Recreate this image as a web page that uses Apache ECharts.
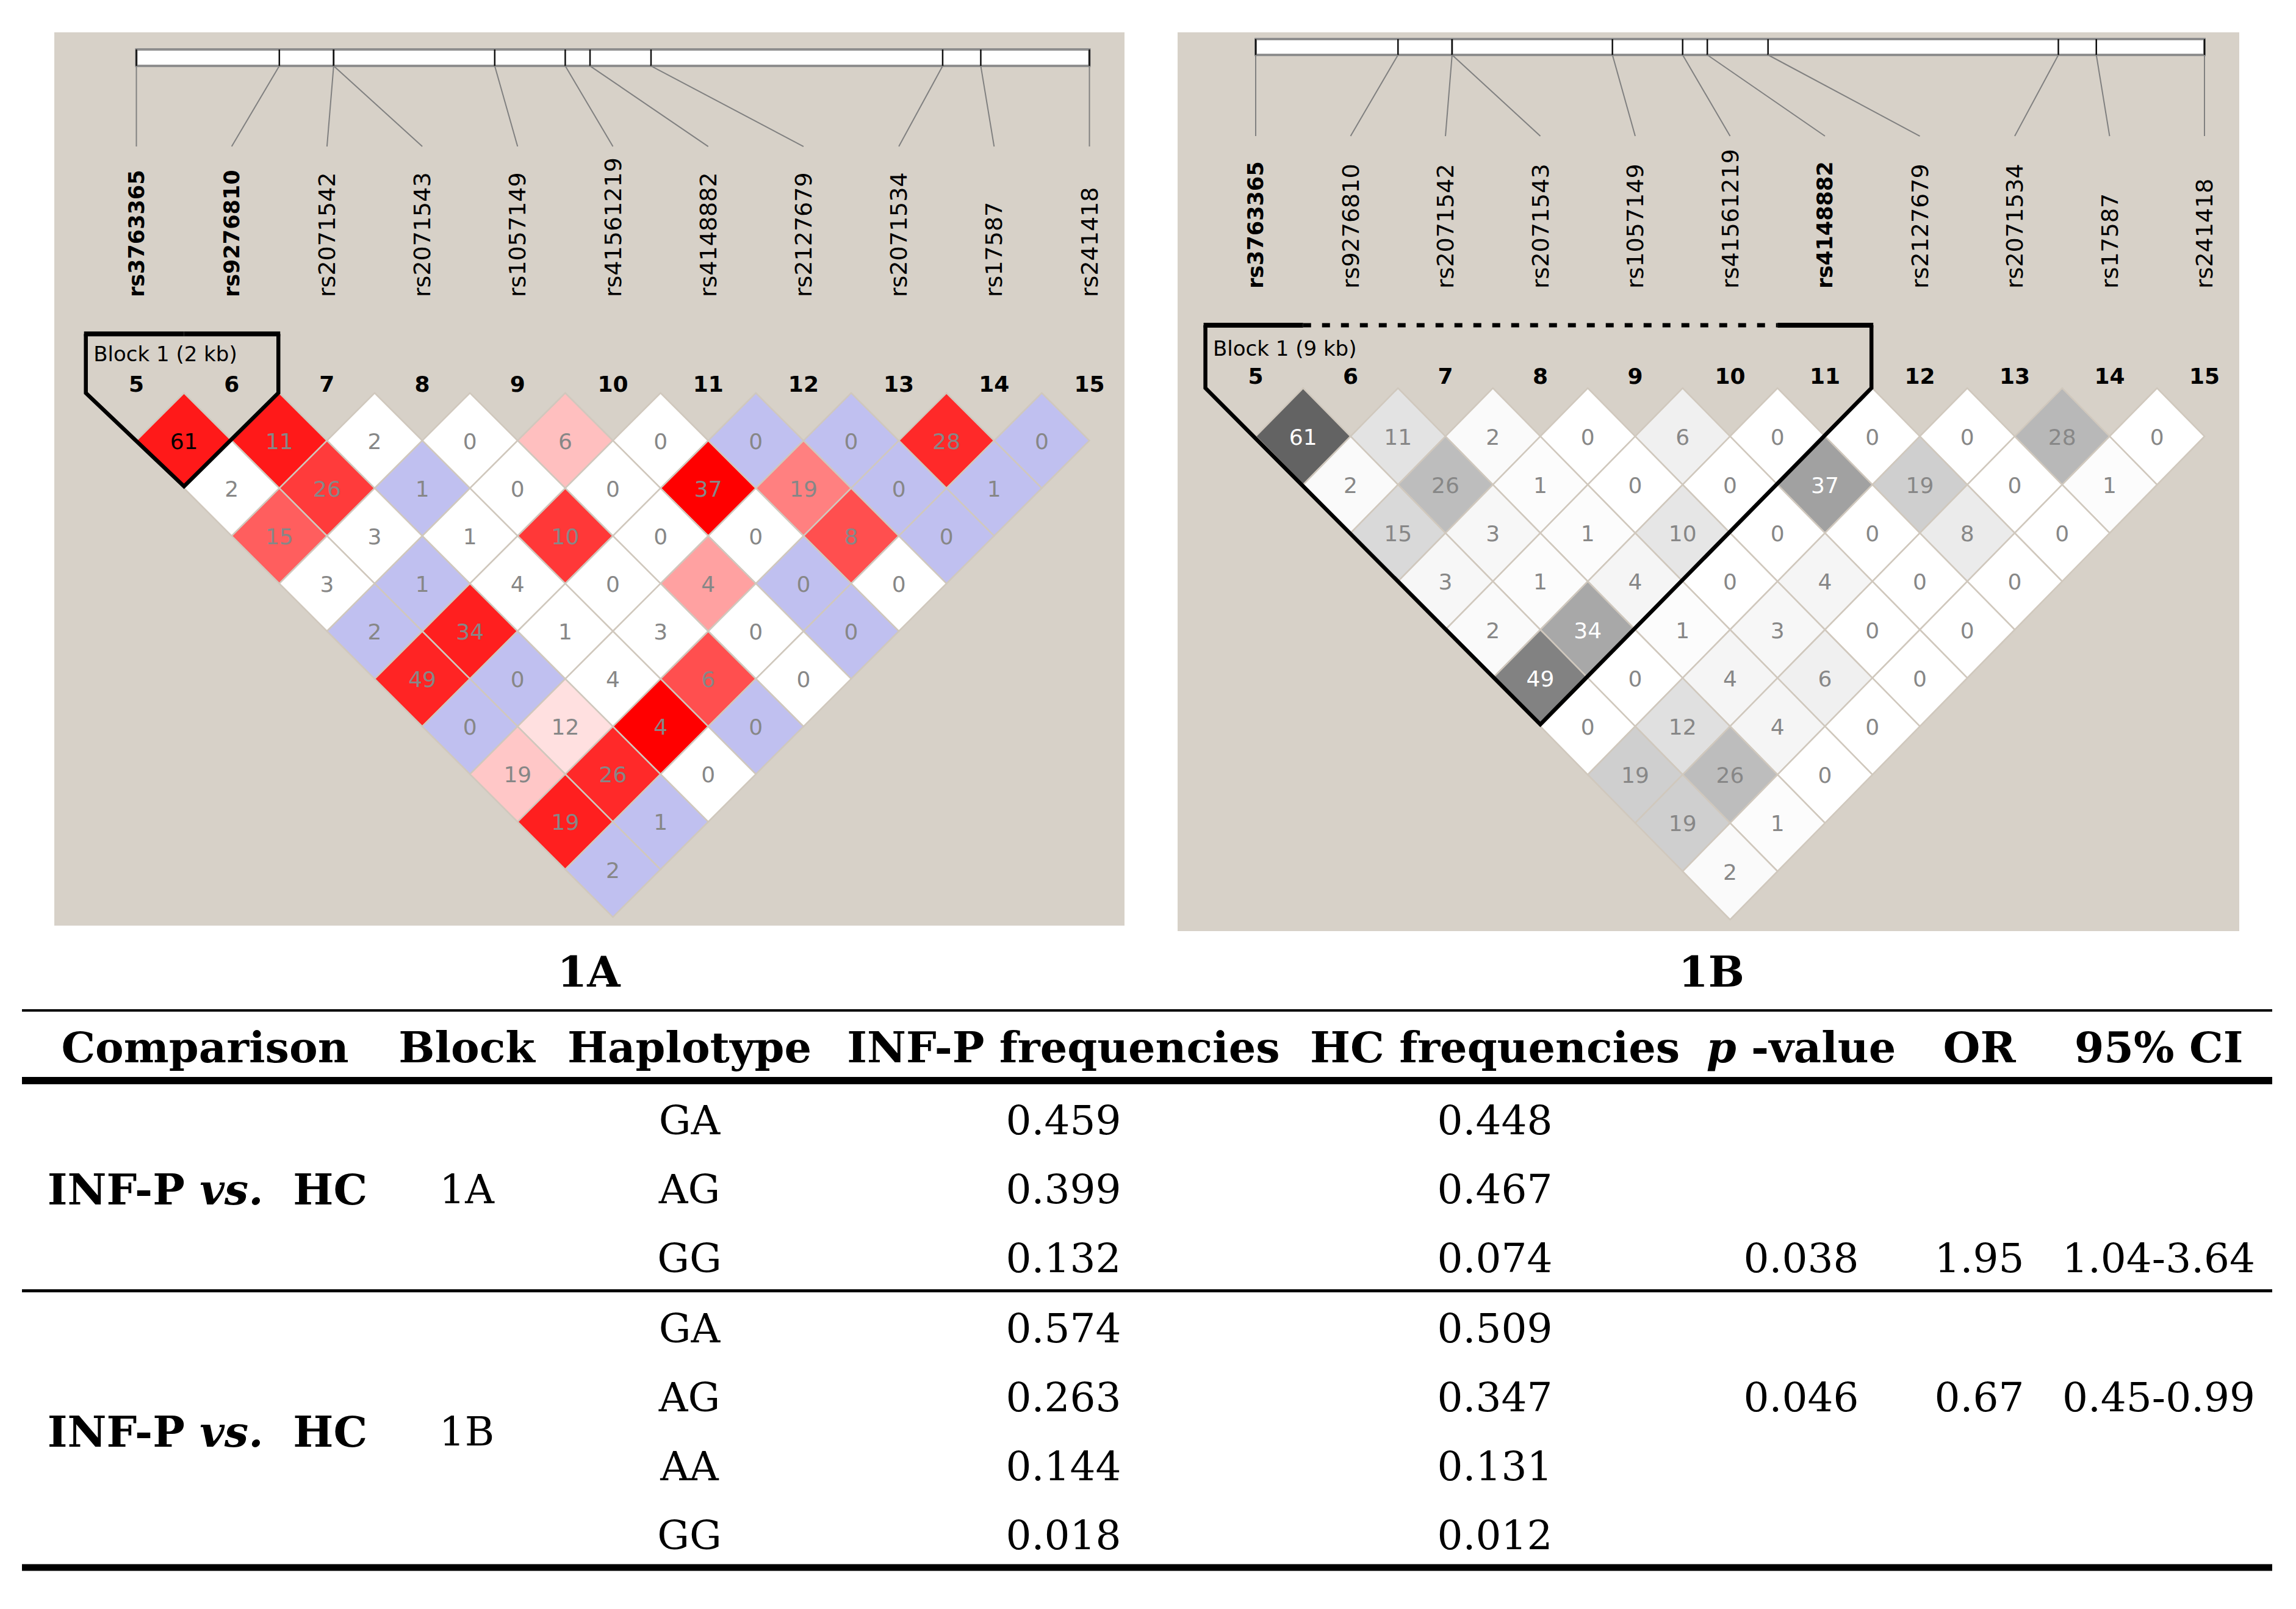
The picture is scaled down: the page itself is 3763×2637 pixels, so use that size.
<!DOCTYPE html>
<html><head><meta charset="utf-8">
<script src="https://cdn.jsdelivr.net/npm/echarts@6/dist/echarts.min.js"></script>
<style>html,body{margin:0;padding:0;background:#fff;}#c{width:3763px;height:2637px;}</style>
</head><body><div id="c"></div>
<script>
// ---------------- DATA ----------------
const markerNumbers = [5, 6, 7, 8, 9, 10, 11, 12, 13, 14, 15];
const snpNames = ['rs3763365','rs9276810','rs2071542','rs2071543','rs1057149','rs41561219','rs4148882','rs2127679','rs2071534','rs17587','rs241418'];
// relative map position of each SNP along the region bar (0..1000)
const snpMapPos = [0, 150, 207, 207, 376, 450, 476, 540, 846, 886, 1000];
// r² x100, row k = pairs (marker m, marker m+k)
const r2Rows = [
  [61, 11, 2, 0, 6, 0, 0, 0, 28, 0],
  [2, 26, 1, 0, 0, 37, 19, 0, 1],
  [15, 3, 1, 10, 0, 0, 8, 0],
  [3, 1, 4, 0, 4, 0, 0],
  [2, 34, 1, 3, 0, 0],
  [49, 0, 4, 6, 0],
  [0, 12, 4, 0],
  [19, 26, 0],
  [19, 1],
  [2]
];
// estimated D' (panel 1A colour scheme)
const dPrimeRows = [
  [0.90, 0.90, 0.50, 0.50, 0.25, 0.50, 1, 1, 0.84, 1],
  [0.50, 0.77, 1, 0.50, 0.50, 1, 0.50, 1, 1],
  [0.63, 0.50, 0.50, 0.78, 0.50, 0.50, 0.69, 1],
  [0.50, 1, 0.50, 0.50, 0.37, 1, 0.50],
  [1, 0.88, 0.50, 0.50, 0.50, 1],
  [0.86, 1, 0.50, 0.69, 0.50],
  [1, 0.12, 1, 1],
  [0.22, 0.84, 0.50],
  [0.88, 1],
  [1]
];
// LOD >= 2 flag (panel 1A colour scheme)
const lodSigRows = [
  [1, 1, 0, 0, 1, 0, 0, 0, 1, 0],
  [0, 1, 0, 0, 0, 1, 1, 0, 0],
  [1, 0, 0, 1, 0, 0, 1, 0],
  [0, 0, 0, 0, 1, 0, 0],
  [0, 1, 0, 0, 0, 0],
  [1, 0, 0, 1, 0],
  [0, 1, 1, 0],
  [1, 1, 0],
  [1, 0],
  [0]
];
const blockA = [5, 6];
const blockB = [5, 11];
const blockLabels = ['Block 1 (2 kb)', 'Block 1 (9 kb)'];
const panelCaptions = ['1A', '1B'];

const tableHeader = ['Comparison', 'Block', 'Haplotype', 'INF-P frequencies', 'HC frequencies', 'p -value', 'OR', '95% CI'];
const comparisons = ['INF-P vs. HC', 'INF-P vs. HC'];
const blockNames = ['1A', '1B'];
const haplotypes = [['GA', 'AG', 'GG'], ['GA', 'AG', 'AA', 'GG']];
const infpFreq = [[0.459, 0.399, 0.132], [0.574, 0.263, 0.144, 0.018]];
const hcFreq = [[0.448, 0.467, 0.074], [0.509, 0.347, 0.131, 0.012]];
const pValues = ['0.038', '0.046'];
const orValues = ['1.95', '0.67'];
const ciValues = ['1.04-3.64', '0.45-0.99'];
const statRowIndex = [2, 1];

// ---------------- LAYOUT ----------------
const BG = '#d7d1c8';
const panels = [
  {left: 89, top: 53, width: 1754, height: 1464, x0: 223.5, xu: 156.2, y0: 644, yu: 156.2,
   barTop: -3.604, barBot: -3.431, lineEnd: -2.586, labelBottom: -1.005, numY: -0.096,
   blockTop: -0.62, blockLabelY: -0.41, block: blockA, blockLabel: blockLabels[0], scheme: 'dprime'},
  {left: 1930, top: 53, width: 1740, height: 1473, x0: 2058, xu: 155.5, y0: 636, yu: 158.4,
   barTop: -3.611, barBot: -3.447, lineEnd: -2.607, labelBottom: -1.029, numY: -0.12,
   blockTop: -0.65, blockLabelY: -0.41, block: blockB, blockLabel: blockLabels[1], scheme: 'r2'}
];

const m0 = markerNumbers[0], mN = markerNumbers[markerNumbers.length - 1];
const p0 = snpMapPos[0], pN = snpMapPos[snpMapPos.length - 1];
function mapToMarker(pos) { return m0 + (pos - p0) / (pN - p0) * (mN - m0); }

function cellData() {
  const out = [];
  r2Rows.forEach((row, k0) => row.forEach((v, m) => {
    const i = markerNumbers[m], j = markerNumbers[m + k0 + 1];
    out.push([(i + j) / 2, (j - i) / 2, v, dPrimeRows[k0][m], lodSigRows[k0][m], i, j]);
  }));
  return out;
}
function dprimeColor(dp, lod) {
  if (lod) { const g = Math.round(255 * (1 - dp)); return 'rgb(255,' + g + ',' + g + ')'; }
  return dp >= 1 ? '#c0c0f0' : '#ffffff';
}

const grids = [], xAxes = [], yAxes = [], series = [], visualMaps = [];
panels.forEach((p, g) => {
  grids.push({left: p.left, top: p.top, width: p.width, height: p.height, show: true,
    backgroundColor: BG, borderWidth: 0});
  xAxes.push({type: 'value', gridIndex: g, show: false,
    min: m0 + (p.left - p.x0) / p.xu, max: m0 + (p.left + p.width - p.x0) / p.xu});
  yAxes.push({type: 'value', gridIndex: g, show: false, inverse: true,
    min: (p.top - p.y0) / p.yu, max: (p.top + p.height - p.y0) / p.yu});
  const L = p.block[0], R = p.block[1];

  // region bar
  series.push({type: 'custom', xAxisIndex: g, yAxisIndex: g, z: 2,
    data: [[m0, mN]],
    renderItem: (params, api) => {
      const a = api.coord([api.value(0), p.barTop]), b = api.coord([api.value(1), p.barBot]);
      return {type: 'rect', shape: {x: a[0], y: a[1], width: b[0] - a[0], height: b[1] - a[1]},
        style: {fill: '#ffffff', stroke: '#8e8e8e', lineWidth: 4}};
    }});
  // SNP ticks, connector lines and names
  series.push({type: 'custom', xAxisIndex: g, yAxisIndex: g, z: 3,
    data: markerNumbers.map((mk, k) => [mk, mapToMarker(snpMapPos[k])]),
    renderItem: (params, api) => {
      const k = params.dataIndex, mx = api.value(0), px = api.value(1);
      const t = api.coord([px, p.barTop]), b = api.coord([px, p.barBot]);
      const e = api.coord([mx, p.lineEnd]), lb = api.coord([mx, p.labelBottom]);
      const emph = (mx === L || mx === R);
      return {type: 'group', children: [
        {type: 'line', shape: {x1: t[0], y1: t[1], x2: b[0], y2: b[1]}, style: {stroke: '#111', lineWidth: 2.5}},
        {type: 'line', shape: {x1: b[0], y1: b[1], x2: e[0], y2: e[1]}, style: {stroke: '#808080', lineWidth: 2}},
        {type: 'text', x: lb[0], y: lb[1], rotation: Math.PI / 2,
          style: {text: snpNames[k], fill: '#000',
            font: emph ? 'bold 35px "DejaVu Sans"' : '38px "DejaVu Sans"',
            align: 'left', verticalAlign: 'middle'}}
      ]};
    }});
  // marker numbers
  series.push({type: 'custom', xAxisIndex: g, yAxisIndex: g, z: 3,
    data: markerNumbers.map(mk => [mk, p.numY]),
    renderItem: (params, api) => {
      const c = api.coord([api.value(0), api.value(1)]);
      return {type: 'text', x: c[0], y: c[1],
        style: {text: String(api.value(0)), fill: '#000', font: 'bold 36px "DejaVu Sans"',
          align: 'center', verticalAlign: 'middle'}};
    }});
  // LD cells
  const cellSeriesIndex = series.length;
  series.push({type: 'custom', xAxisIndex: g, yAxisIndex: g, z: 4,
    dimensions: ['x', 'y', 'r2', 'dprime', 'lod', 'i', 'j'],
    encode: {x: 0, y: 1},
    data: cellData(),
    renderItem: (params, api) => {
      const cx = api.value(0), cy = api.value(1), v = api.value(2);
      const pts = [[cx - 0.5, cy], [cx, cy - 0.5], [cx + 0.5, cy], [cx, cy + 0.5]].map(q => api.coord(q));
      const c = api.coord([cx, cy]);
      let fill, txt;
      if (p.scheme === 'dprime') {
        fill = dprimeColor(api.value(3), api.value(4));
        txt = (api.value(5) >= L && api.value(6) <= R) ? '#000' : '#878787';
      } else {
        fill = api.visual('color');
        txt = v > 30 ? '#ffffff' : '#878787';
      }
      return {type: 'group', children: [
        {type: 'polygon', shape: {points: pts}, style: {fill: fill, stroke: '#d0c8bd', lineWidth: 2.5}},
        {type: 'text', x: c[0], y: c[1] + 1,
          style: {text: String(v), fill: txt, font: '36px "DejaVu Sans"', align: 'center', verticalAlign: 'middle'}}
      ]};
    }});
  if (p.scheme === 'r2') {
    visualMaps.push({type: 'continuous', show: false, seriesIndex: cellSeriesIndex, dimension: 2,
      min: 0, max: 100, inRange: {color: ['#ffffff', '#000000']}});
  }
  // haplotype block outline
  series.push({type: 'custom', xAxisIndex: g, yAxisIndex: g, z: 5,
    data: [[L, R]],
    renderItem: (params, api) => {
      const l = api.value(0), r = api.value(1);
      const xl = l - 0.53, xr = r + 0.49;
      const v = [[xl, p.blockTop], [xl, 0], [(l + r) / 2, (r - l) / 2 + 0.48], [xr, 0], [xr, p.blockTop]].map(q => api.coord(q));
      const ty = api.coord([xl, p.blockTop])[1];
      const kids = [
        {type: 'polyline', shape: {points: v}, style: {stroke: '#000', lineWidth: 6.5, fill: null, lineJoin: 'miter'}},
        {type: 'line', shape: {x1: api.coord([xl, 0])[0] - 3, y1: ty, x2: api.coord([l + 0.5, 0])[0], y2: ty}, style: {stroke: '#000', lineWidth: 8}},
        {type: 'line', shape: {x1: api.coord([r - 0.5, 0])[0], y1: ty, x2: api.coord([xr, 0])[0] + 3, y2: ty}, style: {stroke: '#000', lineWidth: 8}}
      ];
      if (r - l > 1) {
        kids.push({type: 'line', shape: {x1: api.coord([l + 0.5, 0])[0], y1: ty, x2: api.coord([r - 0.5, 0])[0], y2: ty},
          style: {stroke: '#000', lineWidth: 7, lineDash: [13, 18]}});
      }
      const lab = api.coord([l - 0.45, p.blockLabelY]);
      kids.push({type: 'text', x: lab[0], y: lab[1],
        style: {text: p.blockLabel, fill: '#000', font: '34px "DejaVu Sans"', align: 'left', verticalAlign: 'middle'}});
      return {type: 'group', children: kids};
    }});
});

// ---------------- TABLE (text elements) ----------------
const SERIF = '"DejaVu Serif"';
const FS = 66, FSH = 70;
const colCenters = [336, 765, 1130, 1743, 2450, 2952, 3244, 3538];
const tableLeft = 36, tableRight = 3724;
const headerY = 1712, firstRowY = 1832, rowPitch = 113, groupExtra = 2;
const textDY = 4;
const els = [];
function txt(x, y, text, font, align) {
  els.push({type: 'text', x: x, y: y + textDY, style: {text: text, font: font, fill: '#000',
    align: align || 'center', verticalAlign: 'middle'}});
}
function rule(y, h) {
  els.push({type: 'rect', shape: {x: tableLeft, y: y - h / 2, width: tableRight - tableLeft, height: h}, style: {fill: '#000'}});
}
// captions
txt(965, 1588, panelCaptions[0], 'bold 70px ' + SERIF);
txt(2805, 1588, panelCaptions[1], 'bold 70px ' + SERIF);
rule(1656, 4);
tableHeader.forEach((h, c) => {
  if (c === 5) {
    const parts = h.split(' ');
    els.push({type: 'text', x: colCenters[c], y: headerY + textDY, style: {
      text: '{pi|' + parts[0] + '}{b| ' + parts[1] + '}', align: 'center', verticalAlign: 'middle',
      rich: {pi: {font: 'italic bold ' + FSH + 'px ' + SERIF, fill: '#000'},
             b: {font: 'bold ' + FSH + 'px ' + SERIF, fill: '#000'}}}});
  } else {
    txt(colCenters[c], headerY, h, 'bold ' + FSH + 'px ' + SERIF);
  }
});
rule(1771, 12);
let rowsBefore = 0;
haplotypes.forEach((haps, gi) => {
  const ys = haps.map((_, n) => firstRowY + (rowsBefore + n) * rowPitch + gi * groupExtra);
  const midY = (ys[0] + ys[ys.length - 1]) / 2;
  const cmp = comparisons[gi].split(' ');
  els.push({type: 'text', x: colCenters[0] + 4, y: midY + textDY, style: {
    text: '{b|' + cmp[0] + ' }{bi|' + cmp[1] + '}{b|  ' + cmp[2] + '}', align: 'center', verticalAlign: 'middle',
    rich: {b: {font: 'bold ' + FSH + 'px ' + SERIF, fill: '#000'},
           bi: {font: 'italic bold ' + FSH + 'px ' + SERIF, fill: '#000'}}}});
  txt(colCenters[1], midY, blockNames[gi], FS + 'px ' + SERIF);
  haps.forEach((h, n) => {
    txt(colCenters[2], ys[n], h, FS + 'px ' + SERIF);
    txt(colCenters[3], ys[n], infpFreq[gi][n].toFixed(3), FS + 'px ' + SERIF);
    txt(colCenters[4], ys[n], hcFreq[gi][n].toFixed(3), FS + 'px ' + SERIF);
  });
  const sy = ys[statRowIndex[gi]];
  txt(colCenters[5], sy, pValues[gi], FS + 'px ' + SERIF);
  txt(colCenters[6], sy, orValues[gi], FS + 'px ' + SERIF);
  txt(colCenters[7], sy, ciValues[gi], FS + 'px ' + SERIF);
  rowsBefore += haps.length;
  if (gi < haplotypes.length - 1) rule((ys[ys.length - 1] + ys[ys.length - 1] + rowPitch + groupExtra) / 2, 5);
});
rule(2569, 11);

const chart = echarts.init(document.getElementById('c'), null, {renderer: 'svg', width: 3763, height: 2637});
chart.setOption({
  animation: false,
  backgroundColor: '#ffffff',
  grid: grids, xAxis: xAxes, yAxis: yAxes,
  visualMap: visualMaps,
  series: series,
  graphic: {elements: els}
});
</script></body></html>
